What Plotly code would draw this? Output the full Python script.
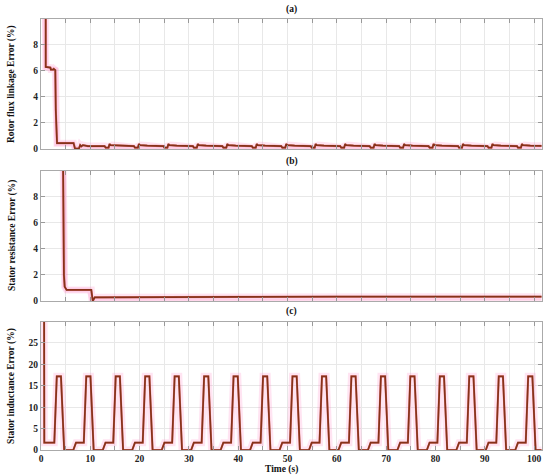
import plotly.graph_objects as go

# ---------------- data ----------------
# (a) Rotor flux linkage error (%)
a_t = [0.95, 0.96, 1.9, 2.0, 2.5, 2.6, 2.9, 3.0, 3.25, 6.6, 6.9, 7.7, 7.95, 8.2, 8.5, 9.5,
       12.9, 13.1, 13.7, 13.9, 14.1, 15.6,
       18.85, 19.05, 19.65, 19.85, 20.05, 21.55,
       24.83, 25.03, 25.63, 25.83, 26.03, 27.53,
       30.8, 31.0, 31.6, 31.8, 32.0, 33.5,
       36.78, 36.98, 37.58, 37.78, 37.98, 39.48,
       42.75, 42.95, 43.55, 43.75, 43.95, 45.45,
       48.73, 48.93, 49.53, 49.73, 49.93, 51.43,
       54.7, 54.9, 55.5, 55.7, 55.9, 57.4,
       60.68, 60.88, 61.48, 61.68, 61.88, 63.38,
       66.65, 66.85, 67.45, 67.65, 67.85, 69.35,
       72.63, 72.83, 73.43, 73.63, 73.83, 75.33,
       78.6, 78.8, 79.4, 79.6, 79.8, 81.3,
       84.58, 84.78, 85.38, 85.58, 85.78, 87.28,
       90.55, 90.75, 91.35, 91.55, 91.75, 93.25,
       96.53, 96.73, 97.33, 97.53, 97.73, 99.23,
       101.5]
a_v = [14, 6.3, 6.25, 6.1, 6.1, 6.15, 6.05, 3.0, 0.45, 0.45, 0.03, 0.03, 0.3, 0.2, 0.3, 0.22,
       0.22, 0.1, 0.1, 0.38, 0.3, 0.26,
       0.22, 0.1, 0.1, 0.38, 0.3, 0.26,
       0.22, 0.1, 0.1, 0.38, 0.3, 0.26,
       0.22, 0.1, 0.1, 0.38, 0.3, 0.26,
       0.22, 0.1, 0.1, 0.38, 0.3, 0.26,
       0.22, 0.1, 0.1, 0.38, 0.3, 0.26,
       0.22, 0.1, 0.1, 0.38, 0.3, 0.26,
       0.22, 0.1, 0.1, 0.38, 0.3, 0.26,
       0.22, 0.1, 0.1, 0.38, 0.3, 0.26,
       0.22, 0.1, 0.1, 0.38, 0.3, 0.26,
       0.22, 0.1, 0.1, 0.38, 0.3, 0.26,
       0.22, 0.1, 0.1, 0.38, 0.3, 0.26,
       0.22, 0.1, 0.1, 0.38, 0.3, 0.26,
       0.22, 0.1, 0.1, 0.38, 0.3, 0.26,
       0.22, 0.1, 0.1, 0.38, 0.3, 0.26,
       0.24]
a_ref_t = [0.0, 0.5, 1.0, 3.0, 3.2, 6.5, 6.9, 101.5]
a_ref_v = [14, 14, 6.25, 6.1, 0.4, 0.4, 0.05, 0.05]

# (b) Stator resistance error (%)
b_t = [4.45, 4.55, 4.65, 4.8, 5.2, 10.2, 10.35, 10.5, 10.9, 20, 40, 60, 80, 101.5]
b_v = [12, 6, 2, 1.1, 0.85, 0.85, 0.0, 0.0, 0.28, 0.3, 0.32, 0.33, 0.33, 0.33]
b_ref_t = [3.5, 4.5, 4.8, 5.2, 9.8, 10.3, 101.5]
b_ref_v = [12, 12, 1.1, 0.85, 0.85, 0.02, 0.02]

# (c) Stator inductance error (%)
c_t = [0.62, 0.67,
       2.7, 3.2, 4.05, 4.7, 6.55, 7.1,
       8.68, 9.18, 10.03, 10.68, 12.53, 13.08,
       14.65, 15.15, 16.0, 16.65, 18.5, 19.05,
       20.63, 21.13, 21.98, 22.63, 24.48, 25.03,
       26.6, 27.1, 27.95, 28.6, 30.45, 31.0,
       32.58, 33.08, 33.93, 34.58, 36.43, 36.98,
       38.55, 39.05, 39.9, 40.55, 42.4, 42.95,
       44.53, 45.03, 45.88, 46.53, 48.38, 48.93,
       50.5, 51.0, 51.85, 52.5, 54.35, 54.9,
       56.48, 56.98, 57.83, 58.48, 60.33, 60.88,
       62.45, 62.95, 63.8, 64.45, 66.3, 66.85,
       68.43, 68.93, 69.78, 70.43, 72.28, 72.83,
       74.4, 74.9, 75.75, 76.4, 78.25, 78.8,
       80.38, 80.88, 81.73, 82.38, 84.23, 84.78,
       86.35, 86.85, 87.7, 88.35, 90.2, 90.75,
       92.33, 92.83, 93.68, 94.33, 96.18, 96.73,
       98.3, 98.8, 99.65, 100.3, 101.5]
c_v = [40, 1.7] + [1.7, 17.2, 17.2, 0, 0, 1.7] * 16 + [1.7, 17.2, 17.2, 0, 0]

x_ticks = [0, 10, 20, 30, 40, 50, 60, 70, 80, 90, 100]
titles = ["(a)", "(b)", "(c)"]
ytitles = ["Rotor flux linkage Error (%)", "Stator resistance Error (%)",
           "Stator inductance Error (%)"]

# ---------------- figure ----------------
FONT = "Liberation Serif, Times New Roman, serif"
BROWN = "#86321a"
RED = "#d03020"
PINK = "rgba(255,120,190,0.2)"

fig = go.Figure()
panels = [(a_t, a_v, a_ref_t, a_ref_v, "", "y"),
          (b_t, b_v, b_ref_t, b_ref_v, "2", "y2"),
          (c_t, c_v, None, None, "3", "y3")]
for t, v, rt, rv, sfx, yref in panels:
    xa = "x" + sfx
    if rt is not None:
        fig.add_trace(go.Scatter(x=rt, y=rv, mode="lines", xaxis=xa, yaxis=yref,
                                 line=dict(color=PINK, width=5), hoverinfo="skip",
                                 showlegend=False))
    fig.add_trace(go.Scatter(x=t, y=v, mode="lines", xaxis=xa, yaxis=yref,
                             line=dict(color=PINK, width=7), hoverinfo="skip",
                             showlegend=False))
    fig.add_trace(go.Scatter(x=t, y=v, mode="lines", xaxis=xa, yaxis=yref,
                             line=dict(color=RED, width=2.1), opacity=0.5,
                             showlegend=False))
    fig.add_trace(go.Scatter(x=t, y=v, mode="lines", xaxis=xa, yaxis=yref,
                             line=dict(color=BROWN, width=1.7), showlegend=False))

tickfont = dict(family=FONT, size=9.5, color="#222", weight="bold")
common_x = dict(range=[0, 101.6], tickvals=x_ticks, ticks="inside", ticklen=4,
                tickcolor="#999", showline=True, linecolor="#aaa", linewidth=1,
                mirror="ticks", showgrid=True, gridcolor="#e8e8e8", gridwidth=1,
                minor=dict(dtick=5, tick0=0, showgrid=True, gridcolor="#e8e8e8",
                           ticks="inside", ticklen=4, tickcolor="#999"),
                zeroline=False, tickfont=tickfont)
common_y = dict(ticks="inside", ticklen=4, tickcolor="#999", showline=True,
                linecolor="#aaa", linewidth=1, mirror="ticks", showgrid=True,
                gridcolor="#e8e8e8", zeroline=False, tickfont=tickfont)

doms = [[0.6984, 1.0], [0.3457, 0.6473], [0.0, 0.297]]
fig.update_layout(
    width=550, height=476,
    margin=dict(l=41, r=8, t=19, b=26),
    paper_bgcolor="white", plot_bgcolor="white",
    showlegend=False,
    xaxis=dict(common_x, anchor="y", showticklabels=False),
    xaxis2=dict(common_x, anchor="y2", showticklabels=False),
    xaxis3=dict(common_x, anchor="y3", showticklabels=True),
    yaxis=dict(common_y, domain=doms[0], range=[0, 9.98], dtick=2, anchor="x"),
    yaxis2=dict(common_y, domain=doms[1], range=[0, 9.98], dtick=2, anchor="x2"),
    yaxis3=dict(common_y, domain=doms[2], range=[0, 29.9], dtick=5, anchor="x3"),
)

ann = []
tfont = dict(family=FONT, size=9.5, color="#111", weight="bold")
for i, (tt, yt) in enumerate(zip(titles, ytitles)):
    top = doms[i][1]
    mid = (doms[i][0] + doms[i][1]) / 2
    ann.append(dict(text=tt, xref="paper", yref="paper", x=0.5, y=top,
                    yshift=10, showarrow=False, font=tfont,
                    xanchor="center", yanchor="middle"))
    ann.append(dict(text=yt, xref="paper", yref="paper", x=0, y=mid,
                    xshift=-29, textangle=-90, showarrow=False, font=tfont,
                    xanchor="center", yanchor="middle"))
ann.append(dict(text="Time (s)", xref="paper", yref="paper", x=0.48, y=0,
                yshift=-19, showarrow=False, font=tfont,
                xanchor="center", yanchor="middle"))
fig.update_layout(annotations=ann)

# remove the browser's default 8px body margin so the figure fills the window
fig.write_html("out.html", config={"displayModeBar": False},
               post_script="document.body.style.margin='0';")
